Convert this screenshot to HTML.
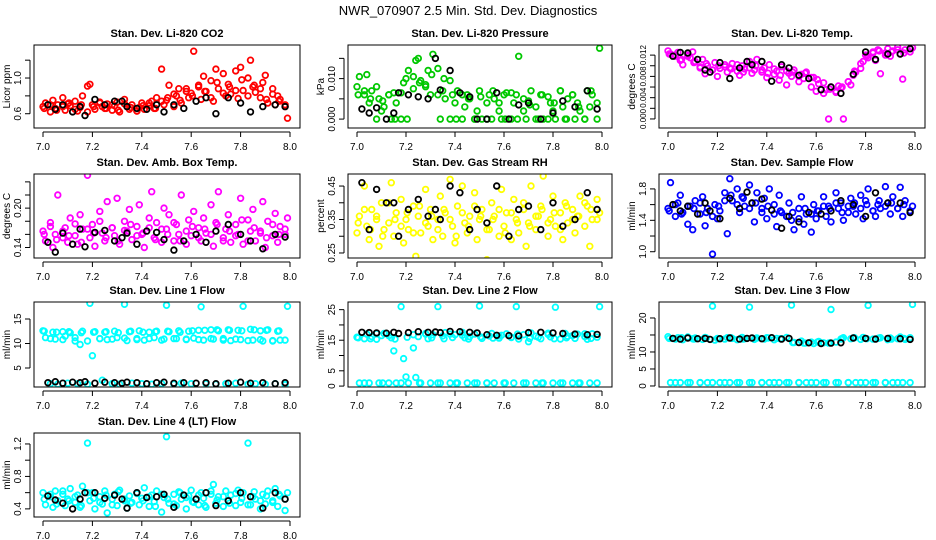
<!DOCTYPE html>
<html><head><meta charset="utf-8">
<style>
html,body{margin:0;padding:0;background:#fff;}
svg{display:block;font-family:"Liberation Sans",sans-serif;}
</style></head>
<body>
<svg id="chart" width="936" height="540" viewBox="0 0 936 540">
<text x="468" y="15" text-anchor="middle" font-size="13">NWR_070907  2.5 Min. Std. Dev. Diagnostics</text>
</svg>
<script>
const timesA=[7.00,7.01,7.03,7.04,7.05,7.06,7.08,7.09,7.10,7.11,7.13,7.14,7.15,7.16,7.18,7.19,7.20,7.21,7.23,7.24,7.25,7.26,7.28,7.29,7.30,7.31,7.33,7.34,7.35,7.36,7.38,7.39,7.40,7.41,7.43,7.44,7.45,7.46,7.48,7.49,7.50,7.51,7.53,7.54,7.55,7.56,7.58,7.59,7.60,7.61,7.63,7.64,7.65,7.66,7.68,7.69,7.70,7.71,7.73,7.74,7.75,7.76,7.78,7.79,7.80,7.81,7.83,7.84,7.85,7.86,7.88,7.89,7.90,7.91,7.93,7.94,7.95,7.96,7.98,7.99];
const timesB=[7.005,7.03,7.055,7.08,7.105,7.13,7.155,7.18,7.205,7.23,7.255,7.28,7.305,7.33,7.355,7.38,7.405,7.43,7.455,7.48,7.505,7.53,7.555,7.58,7.605,7.63,7.655,7.68,7.705,7.73,7.755,7.78,7.805,7.83,7.855,7.88,7.905,7.93,7.955,7.98];
const timesBlack=[7.02,7.05,7.08,7.12,7.15,7.17,7.21,7.25,7.29,7.32,7.34,7.38,7.42,7.46,7.49,7.53,7.57,7.62,7.66,7.70,7.75,7.80,7.84,7.89,7.94,7.98];
const xTicks=[7.0,7.2,7.4,7.6,7.8,8.0];
const xTickLabels=["7.0","7.2","7.4","7.6","7.8","8.0"];

const co2=[.68,.72,.62,.75,.66,.70,.78,.64,.71,.69,.74,.63,.67,.80,.91,.93,.70,.65,.72,.68,.66,.71,.64,.69,.73,.62,.76,.68,.65,.70,.63,.67,.72,.65,.69,.74,.66,.78,1.10,.70,.75,.92,.68,.80,.88,.72,.85,.78,.83,1.30,.90,.76,1.02,.85,.97,.74,1.10,.88,1.05,.80,.93,.82,1.08,.77,1.12,.86,1.00,1.20,.90,.84,.78,.95,1.03,.72,.88,.70,.80,.76,.68,.55];
const co2B=[.66,.70,.64,.68,.72,.65,.70,.62,.68,.73,.66,.70,.64,.71,.67,.63,.69,.72,.66,.74,.78,.82,.75,.88,.80,.92,.85,.78,.95,.83,.90,.86,.98,.80,.92,.88,.76,.82,.74,.70];
const co2Black=[.70,.65,.70,.62,.68,.58,.76,.70,.74,.74,.68,.66,.65,.70,.62,.70,.66,.74,.78,.60,.78,.72,.62,.68,.70,.68];
const pres=[.008,.0105,.006,.011,.004,.007,.000,.005,.002,.003,.006,.000,.0065,.004,.000,.009,.010,.012,.0075,.0145,.015,.0095,.0085,.012,.006,.016,.0125,.000,.007,.005,.000,.006,.004,.007,.000,.003,.006,.005,.000,.002,.007,.000,.004,.006,.000,.005,.002,.000,.006,.0065,.000,.004,.006,.0155,.002,.000,.0045,.007,.003,.000,.006,.000,.0055,.004,.002,.000,.007,.003,.000,.005,.006,.000,.004,.002,.000,.007,.003,.006,.000,.0175];
const presB=[.006,.007,.005,.008,.0045,.006,.000,.0065,.000,.0105,.009,.008,.011,.006,.010,.0095,.000,.006,.005,.000,.0055,.000,.007,.004,.000,.0065,.000,.005,.0035,.000,.006,.000,.004,.007,.000,.006,.003,.000,.007,.004];
const presBlack=[.0025,.0015,.0028,.000,.0015,.0065,.006,.0055,.005,.015,.0072,.012,.0065,.0055,.000,.000,.0065,.000,.0035,.004,.000,.0015,.0045,.003,.007,.0025];
const ltemp=[.0128,.0122,.0118,.0125,.0110,.0102,.0120,.0115,.0126,.0108,.0098,.0112,.0085,.0100,.0092,.0106,.0080,.0095,.0102,.0088,.0096,.0104,.0090,.0082,.0100,.0094,.0108,.0086,.0092,.0112,.0088,.0096,.0078,.0102,.0084,.0090,.0073,.0098,.0064,.0086,.0080,.0092,.0070,.0084,.0076,.0088,.0060,.0078,.0052,.0066,.0048,.0055,.0000,.0060,.0050,.0062,.0058,.0000,.0070,.0064,.0082,.0088,.0095,.0108,.0120,.0115,.0126,.0110,.0130,.0085,.0124,.0132,.0118,.0128,.0135,.0122,.0075,.0130,.0126,.0134];
const ltempB=[.0122,.0120,.0112,.0118,.0106,.0096,.0104,.0092,.0100,.0098,.0094,.0102,.0088,.0096,.0100,.0092,.0086,.0094,.0082,.0090,.0088,.0080,.0086,.0078,.0074,.0068,.0056,.0052,.0060,.0070,.0090,.0104,.0118,.0124,.0128,.0120,.0126,.0130,.0124,.0132];
const ltempBlack=[.0118,.0125,.0124,.0112,.0092,.0088,.0106,.0076,.0096,.0108,.0102,.0108,.0071,.0102,.0096,.0082,.0076,.0055,.0060,.0048,.0084,.0126,.0112,.0122,.0122,.0132];
const amb=[.165,.150,.178,.140,.160,.220,.155,.170,.148,.185,.158,.145,.190,.168,.250,.155,.175,.142,.195,.162,.150,.210,.170,.158,.215,.145,.180,.165,.198,.152,.172,.205,.160,.140,.185,.225,.155,.178,.148,.200,.168,.190,.150,.175,.160,.220,.145,.182,.158,.195,.170,.150,.185,.162,.205,.142,.178,.225,.155,.168,.190,.148,.175,.160,.215,.145,.182,.165,.198,.150,.165,.210,.140,.180,.158,.192,.148,.172,.160,.185];
const ambB=[.160,.172,.152,.165,.158,.176,.148,.168,.162,.180,.155,.170,.150,.166,.175,.158,.162,.170,.152,.168,.160,.178,.150,.165,.172,.155,.168,.160,.175,.150,.165,.158,.182,.150,.170,.162,.155,.175,.160,.168];
const ambBlack=[.148,.133,.162,.145,.168,.141,.163,.166,.150,.155,.162,.145,.165,.163,.152,.136,.150,.160,.148,.165,.175,.160,.150,.138,.160,.156];
const rh=[.31,.36,.45,.33,.29,.38,.35,.27,.40,.32,.34,.46,.30,.37,.41,.28,.35,.32,.39,.24,.36,.31,.44,.33,.38,.29,.35,.42,.30,.37,.47,.33,.28,.39,.45,.34,.31,.36,.43,.29,.35,.38,.23,.32,.40,.36,.30,.44,.33,.37,.29,.41,.35,.31,.38,.27,.34,.45,.32,.36,.39,.48,.30,.35,.42,.33,.37,.29,.40,.34,.38,.31,.36,.42,.33,.39,.27,.35,.41,.37];
const rhB=[.34,.38,.32,.36,.30,.40,.35,.33,.37,.31,.39,.34,.36,.32,.38,.35,.30,.37,.33,.39,.36,.32,.35,.38,.31,.37,.34,.40,.33,.36,.38,.34,.37,.32,.39,.35,.36,.40,.38,.35];
const rhBlack=[.46,.32,.44,.40,.40,.30,.38,.41,.36,.38,.35,.45,.43,.32,.38,.34,.45,.30,.38,.39,.32,.40,.33,.35,.43,.38];
const sflow=[1.55,1.88,1.45,1.62,1.72,1.50,1.35,1.58,1.28,1.65,1.48,1.70,1.33,1.55,0.97,1.60,1.42,1.52,1.75,1.23,1.93,1.65,1.80,1.50,1.70,1.58,1.85,1.62,1.38,1.75,1.55,1.68,1.42,1.80,1.60,1.32,1.72,1.50,1.45,1.62,1.40,1.28,1.55,1.70,1.35,1.48,1.25,1.60,1.42,1.52,1.70,1.45,1.58,1.38,1.75,1.55,1.62,1.40,1.50,1.68,1.58,1.48,1.72,1.42,1.65,1.80,1.52,1.45,1.60,1.55,1.83,1.62,1.48,1.70,1.55,1.82,1.45,1.65,1.52,1.58];
const sflowB=[1.52,1.60,1.48,1.58,1.55,1.62,1.50,1.45,1.58,1.65,1.72,1.60,1.68,1.55,1.62,1.50,1.58,1.48,1.52,1.45,1.50,1.42,1.55,1.48,1.52,1.58,1.55,1.62,1.50,1.58,1.62,1.55,1.60,1.52,1.65,1.58,1.62,1.55,1.60,1.52];
const sflowBlack=[1.60,1.52,1.58,1.48,1.62,1.52,1.42,1.68,1.55,1.76,1.62,1.67,1.53,1.30,1.45,1.38,1.50,1.48,1.52,1.65,1.60,1.45,1.75,1.62,1.62,1.50];
const line1=[12.6,11.2,1.8,12.3,10.9,1.7,12.4,11.5,1.9,12.2,10.5,1.8,9.8,12.5,1.7,18.2,7.5,12.4,11.0,2.5,12.3,10.8,1.8,12.5,11.2,1.7,18.0,10.6,12.4,1.9,11.0,12.6,1.8,10.7,12.3,1.7,11.2,12.5,1.8,10.9,17.8,12.4,1.7,11.0,12.6,1.9,10.8,12.5,1.8,11.1,12.7,17.5,10.7,1.8,12.8,10.9,1.7,12.6,11.0,1.8,12.8,10.6,1.9,12.7,10.8,17.6,1.7,12.9,10.7,1.8,12.6,10.5,1.7,12.8,10.6,1.8,12.5,10.7,1.6,17.6];
const line1B=[12.5,11.0,12.3,10.8,12.4,11.2,12.2,10.5,12.3,11.0,12.4,10.9,12.2,11.1,12.5,10.8,12.3,11.0,12.4,10.7,12.5,11.0,12.3,10.9,12.6,10.8,12.7,11.0,12.8,10.7,12.7,10.9,12.6,10.6,12.8,10.8,12.7,10.5,12.6,10.7];
const line1Black=[2.0,2.2,1.9,2.1,2.0,2.2,1.9,2.1,2.0,1.9,2.1,2.0,1.8,2.0,2.1,1.9,2.0,1.9,2.0,1.8,1.9,2.1,1.9,2.0,1.8,2.0];
const line2=[16.0,1.0,15.5,17.0,1.0,16.2,15.3,1.0,16.5,17.2,1.0,15.8,11.5,1.0,26.0,9.0,3.0,1.0,12.5,2.8,16.2,1.0,17.0,15.5,1.0,16.8,26.0,1.0,16.4,17.5,1.0,15.9,16.8,1.0,17.6,15.8,1.0,16.2,17.0,1.0,26.2,15.6,1.0,16.4,17.2,1.0,15.7,16.6,1.0,17.1,16.0,1.0,26.0,15.4,16.8,1.0,14.5,17.4,1.0,16.0,15.5,1.0,17.3,16.1,1.0,25.8,15.4,1.0,17.2,16.3,1.0,15.6,17.0,1.0,16.2,15.3,1.0,17.1,16.0,26.0];
const line2B=[15.8,1.0,15.5,17.2,1.0,16.5,15.4,1.0,16.0,16.8,1.0,17.2,15.8,1.0,15.5,17.0,1.0,16.6,15.4,1.0,16.1,1.0,15.7,16.4,1.0,15.9,17.0,1.0,15.6,16.3,1.0,16.9,15.5,1.0,15.8,16.5,1.0,17.1,15.6,1.0];
const line2Black=[17.6,17.5,17.4,17.3,17.6,17.2,17.5,17.8,17.6,17.7,17.5,17.9,17.8,17.6,17.4,16.8,16.6,16.5,16.4,17.5,17.6,17.4,17.2,17.0,16.8,16.9];
const line3=[14.5,1.0,13.8,14.2,1.0,13.6,14.4,1.0,13.9,14.1,1.0,13.7,14.3,1.0,23.5,13.5,14.0,1.0,13.8,14.2,1.0,14.0,13.6,1.0,14.3,13.9,23.2,1.0,13.7,14.1,1.0,13.8,14.2,1.0,13.6,14.0,1.0,13.9,14.3,1.0,23.8,12.8,1.0,13.2,12.6,1.0,12.9,12.5,1.0,13.1,12.7,1.0,12.6,22.5,12.9,1.0,13.8,14.2,1.0,13.9,14.1,1.0,13.7,14.3,1.0,23.7,13.8,1.0,14.0,14.2,1.0,13.6,14.1,1.0,13.9,14.4,1.0,13.7,14.2,24.0];
const line3B=[14.0,1.0,14.2,1.0,13.8,1.0,14.1,1.0,13.9,1.0,14.2,1.0,13.8,1.0,14.0,1.0,14.1,1.0,13.9,1.0,12.8,1.0,12.6,1.0,12.9,1.0,12.7,1.0,14.0,1.0,14.2,1.0,13.9,1.0,14.1,1.0,13.8,1.0,14.0,1.0];
const line3Black=[14.0,13.8,14.1,13.9,14.0,13.7,13.9,14.1,13.8,14.0,14.1,13.9,14.2,13.8,14.0,12.8,12.7,12.5,12.6,12.7,14.1,14.0,13.8,14.0,13.9,13.7];
const line4=[.60,.45,.55,.42,.62,.50,.58,.44,.52,.65,.48,.57,.42,.68,1.21,.50,.60,.40,.55,.46,.62,.35,.52,.58,.44,.63,.50,.41,.56,.48,.60,.45,.53,.66,.43,.57,.49,.62,.36,.54,1.29,.47,.58,.44,.61,.52,.40,.56,.63,.48,.45,.60,.53,.42,.58,.70,.47,.55,.43,.62,.50,.57,.44,.63,.48,.60,1.21,.45,.55,.52,.40,.58,.46,.62,.50,.65,.43,.56,.38,.60];
const line4B=[.52,.58,.46,.62,.50,.55,.44,.60,.53,.48,.57,.45,.61,.52,.47,.59,.50,.55,.43,.58,.52,.46,.60,.54,.49,.57,.44,.62,.51,.55,.47,.59,.53,.45,.61,.50,.56,.48,.58,.52];
const line4Black=[.56,.51,.47,.40,.52,.60,.60,.53,.57,.52,.41,.60,.54,.55,.58,.42,.57,.52,.60,.44,.50,.60,.55,.41,.60,.52];

const panels=[
 {name:"co2",title:"Stan. Dev. Li-820 CO2",ylab:"Licor ppm",col:0,row:0,color:"#ff0000",y:co2,y2:co2B,yb:co2Black,dom:[0.44,1.37],ticks:[0.6,0.8,1.0,1.2],labels:[[0.6,"0.6"],[1.0,"1.0"]]},
 {name:"pressure",title:"Stan. Dev. Li-820 Pressure",ylab:"kPa",col:1,row:0,color:"#00c800",y:pres,y2:presB,yb:presBlack,dom:[-0.0022,0.0183],ticks:[0,0.005,0.010,0.015],labels:[[0,"0.000"],[0.010,"0.010"]]},
 {name:"li820-temp",title:"Stan. Dev. Li-820 Temp.",ylab:"degrees C",col:2,row:0,color:"#ff00ff",y:ltemp,y2:ltempB,yb:ltempBlack,dom:[-0.0017,0.0139],ticks:[0,0.002,0.004,0.006,0.008,0.010,0.012],labels:[[0,"0.000"],[0.004,"0.004"],[0.008,"0.008"],[0.012,"0.012"]],lf:8},
 {name:"amb-box-temp",title:"Stan. Dev. Amb. Box Temp.",ylab:"degrees C",col:0,row:1,color:"#ff00ff",y:amb,y2:ambB,yb:ambBlack,dom:[0.124,0.252],ticks:[0.14,0.16,0.18,0.20,0.22,0.24],labels:[[0.14,"0.14"],[0.20,"0.20"]]},
 {name:"gas-stream-rh",title:"Stan. Dev. Gas Stream RH",ylab:"percent",col:1,row:1,color:"#ffff00",y:rh,y2:rhB,yb:rhBlack,dom:[0.235,0.486],ticks:[0.25,0.30,0.35,0.40,0.45],labels:[[0.25,"0.25"],[0.35,"0.35"],[0.45,"0.45"]]},
 {name:"sample-flow",title:"Stan. Dev. Sample Flow",ylab:"ml/min",col:2,row:1,color:"#0000ff",y:sflow,y2:sflowB,yb:sflowBlack,dom:[0.92,1.99],ticks:[1.0,1.2,1.4,1.6,1.8],labels:[[1.0,"1.0"],[1.4,"1.4"],[1.8,"1.8"]]},
 {name:"line1-flow",title:"Stan. Dev. Line 1 Flow",ylab:"ml/min",col:0,row:2,color:"#00ffff",y:line1,y2:line1B,yb:line1Black,dom:[1.12,18.47],ticks:[5,10,15],labels:[[5,"5"],[10,"10"],[15,"15"]]},
 {name:"line2-flow",title:"Stan. Dev. Line 2 Flow",ylab:"ml/min",col:1,row:2,color:"#00ffff",y:line2,y2:line2B,yb:line2Black,dom:[-0.3,27.5],ticks:[0,5,10,15,20,25],labels:[[0,"0"],[5,"5"],[15,"15"],[25,"25"]]},
 {name:"line3-flow",title:"Stan. Dev. Line 3 Flow",ylab:"ml/min",col:2,row:2,color:"#00ffff",y:line3,y2:line3B,yb:line3Black,dom:[-0.3,24.7],ticks:[0,5,10,15,20],labels:[[0,"0"],[5,"5"],[10,"10"],[20,"20"]]},
 {name:"line4-flow",title:"Stan. Dev. Line 4 (LT) Flow",ylab:"ml/min",col:0,row:3,color:"#00ffff",y:line4,y2:line4B,yb:line4Black,dom:[0.30,1.335],ticks:[0.4,0.6,0.8,1.0,1.2],labels:[[0.4,"0.4"],[0.8,"0.8"],[1.2,"1.2"]]}
];
const colX7=[43,357,668], colX8=[290,602,915];
const rowTop=[45,174,302,433], rowBot=[128,258,387,517];
const NS="http://www.w3.org/2000/svg";
const svg=document.getElementById('chart');
function mk(tag,attrs,parent){const e=document.createElementNS(NS,tag);for(const k in attrs)e.setAttribute(k,attrs[k]);(parent||svg).appendChild(e);return e;}

panels.forEach(p=>{
  const g=mk('g',{});
  
  
  const x7=colX7[p.col],x8=colX8[p.col],top=rowTop[p.row],bot=rowBot[p.row];
  const left=x7-9,right=x8+10;
  const xs=v=>x7+(v-7)*(x8-x7);
  const ys=v=>bot-(v-p.dom[0])/(p.dom[1]-p.dom[0])*(bot-top);
  const clipId='clip-'+p.name;
  const cp=mk('clipPath',{id:clipId},g);
  mk('rect',{x:left,y:top,width:right-left,height:bot-top},cp);
  const pts=mk('g',{'clip-path':'url(#'+clipId+')'},g);
  
  
  p.y.forEach((v,i)=>{
    const c=mk('circle',{cx:xs(timesA[i]).toFixed(1),cy:ys(v).toFixed(1),r:2.8,fill:'none',stroke:p.color,'stroke-width':1.8},pts);
    
    
  });
  p.y2.forEach((v,i)=>{
    const c=mk('circle',{cx:xs(timesB[i]).toFixed(1),cy:ys(v).toFixed(1),r:2.8,fill:'none',stroke:p.color,'stroke-width':1.8},pts);
    
    
  });
  p.yb.forEach((v,i)=>{
    const c=mk('circle',{cx:xs(timesBlack[i]).toFixed(1),cy:ys(v).toFixed(1),r:2.8,fill:'none',stroke:'#000','stroke-width':1.8},pts);
    
    
  });
  const box=mk('rect',{x:left,y:top,width:right-left,height:bot-top,fill:'none',stroke:'#000','stroke-width':1},g);
  
  
  const t=mk('text',{x:(left+right)/2,y:top-8,'text-anchor':'middle','font-size':11,'font-weight':'bold'},g);
  t.textContent=p.title;
  
  
  mk('line',{x1:xs(7),x2:xs(8),y1:bot+4,y2:bot+4,stroke:'#000'},g);
  xTicks.forEach((v,i)=>{
    mk('line',{x1:xs(v),x2:xs(v),y1:bot+4,y2:bot+9,stroke:'#000'},g);
    const tl=mk('text',{x:xs(v),y:bot+22,'text-anchor':'middle','font-size':10},g);
    tl.textContent=xTickLabels[i];
    
    
  });
  const ax=left-4;
  mk('line',{x1:ax,x2:ax,y1:ys(p.ticks[0]),y2:ys(p.ticks[p.ticks.length-1]),stroke:'#000'},g);
  p.ticks.forEach(v=>{mk('line',{x1:ax-5,x2:ax,y1:ys(v),y2:ys(v),stroke:'#000'},g);});
  p.labels.forEach(l=>{
    const yy=ys(l[0]);
    const tl=mk('text',{x:ax-9,y:yy,'text-anchor':'middle','font-size':p.lf||10,transform:'rotate(-90 '+(ax-9)+' '+yy+')'},g);
    tl.textContent=l[1];
    
    
  });
  const yl=mk('text',{x:left-24,y:(top+bot)/2,'text-anchor':'middle','font-size':10,transform:'rotate(-90 '+(left-24)+' '+((top+bot)/2)+')'},g);
  yl.textContent=p.ylab;
  
  
});
</script>
</body></html>
